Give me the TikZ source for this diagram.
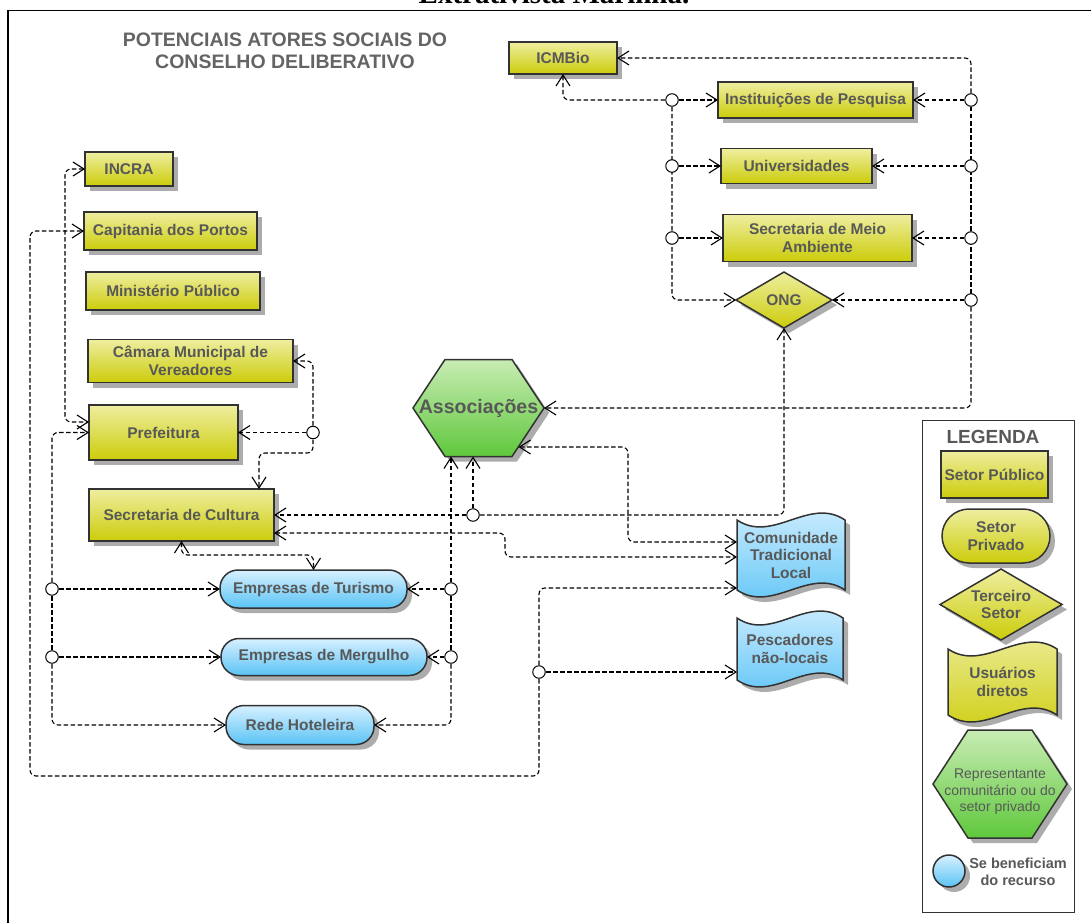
\documentclass[tikz,border=0pt]{standalone}
\usepackage{fontspec}
\setmainfont{Liberation Sans}
\newfontfamily\capfont{Liberation Serif}
\usetikzlibrary{arrows.meta,shadows,calc}

\definecolor{txtgray}{RGB}{88,88,88}
\definecolor{titlegray}{RGB}{100,100,100}
\definecolor{ytop}{RGB}{238,238,160}
\definecolor{ybot}{RGB}{204,204,10}
\definecolor{btop}{RGB}{215,240,255}
\definecolor{bbot}{RGB}{90,195,245}
\definecolor{gtop}{RGB}{200,236,180}
\definecolor{gbot}{RGB}{95,200,60}
\definecolor{shd}{RGB}{172,172,172}
\definecolor{edge}{RGB}{50,50,50}

\tikzset{
  shapeline/.style={draw=edge, line width=1.5pt, line join=miter},
  yfill/.style={top color=ytop, bottom color=ybot},
  bfill/.style={top color=btop, bottom color=bbot},
  gfill/.style={top color=gtop, bottom color=gbot},
  boxshadow/.style={drop shadow={shadow xshift=5pt,shadow yshift=-5pt,fill=shd,opacity=1}},
  lbl/.style={inner sep=0pt, outer sep=0pt, text=txtgray, align=center, font=\bfseries\fontsize{15.5}{17.5}\selectfont},
  pub/.style={lbl, shapeline, yfill, boxshadow, rectangle},
  priv/.style={lbl, shapeline, bfill, boxshadow, rectangle, rounded corners=18pt},
  conn/.style={draw=black, line width=1.1pt, dash pattern=on 4.5pt off 2.5pt, rounded corners=6pt},
  ar/.style={conn, -{Straight Barb[length=11pt,width=14pt,line width=1.1pt]}},
  bar/.style={conn, {Straight Barb[length=11pt,width=14pt,line width=1.1pt]}-{Straight Barb[length=11pt,width=14pt,line width=1.1pt]}},
  junc/.style={circle, draw=black, fill=white, line width=1pt, minimum size=12.5pt, inner sep=0pt},
}

% hexagon: center, w, h, d, style
\newcommand{\hexshape}[5]{%
 \begin{scope}[shift={#1}]
  \begin{scope}[shift={(5,5)}]
   \fill[shd] ({-(#2)/2},0) -- ({-(#2)/2+#4},{-(#3)/2}) -- ({(#2)/2-#4},{-(#3)/2}) -- ({(#2)/2},0) -- ({(#2)/2-#4},{(#3)/2}) -- ({-(#2)/2+#4},{(#3)/2}) -- cycle;
  \end{scope}
  \path[shapeline,#5] ({-(#2)/2},0) -- ({-(#2)/2+#4},{-(#3)/2}) -- ({(#2)/2-#4},{-(#3)/2}) -- ({(#2)/2},0) -- ({(#2)/2-#4},{(#3)/2}) -- ({-(#2)/2+#4},{(#3)/2}) -- cycle;
 \end{scope}}
% tape: center, w, h, style
\newcommand{\tapeshape}[4]{%
 \begin{scope}[shift={#1}]
  \begin{scope}[shift={(5,5)}]
   \fill[shd] ({-(#2)/2},{-(#3)/2}) .. controls ({-(#2)/6},{-(#3)/2+24}) and ({(#2)/6},{-(#3)/2-24}) .. ({(#2)/2},{-(#3)/2}) -- ({(#2)/2},{(#3)/2}) .. controls ({(#2)/6},{(#3)/2-24}) and ({-(#2)/6},{(#3)/2+24}) .. ({-(#2)/2},{(#3)/2}) -- cycle;
  \end{scope}
  \path[shapeline,#4] ({-(#2)/2},{-(#3)/2}) .. controls ({-(#2)/6},{-(#3)/2+24}) and ({(#2)/6},{-(#3)/2-24}) .. ({(#2)/2},{-(#3)/2}) -- ({(#2)/2},{(#3)/2}) .. controls ({(#2)/6},{(#3)/2-24}) and ({-(#2)/6},{(#3)/2+24}) .. ({-(#2)/2},{(#3)/2}) -- cycle;
 \end{scope}}
% diamond: center, w, h, style
\newcommand{\diamshape}[4]{%
 \begin{scope}[shift={#1}]
  \begin{scope}[shift={(5,5)}]
   \fill[shd] ({-(#2)/2},0) -- (0,{-(#3)/2}) -- ({(#2)/2},0) -- (0,{(#3)/2}) -- cycle;
  \end{scope}
  \path[shapeline,#4] ({-(#2)/2},0) -- (0,{-(#3)/2}) -- ({(#2)/2},0) -- (0,{(#3)/2}) -- cycle;
 \end{scope}}

\begin{document}
\begin{tikzpicture}[x=1pt,y=-1pt]
\useasboundingbox (0,0) rectangle (1091,923);
\clip (0,0) rectangle (1091,923);

% cut caption and frame
\node[font=\capfont\bfseries\fontsize{29}{29}\selectfont, anchor=base, inner sep=0pt] (caption) at (554,4) {Extrativista Marinha.};
\draw[line width=1.3pt] (8,923) -- (8,10.5) -- (1091,10.5);

% title
\node[font=\bfseries\fontsize{19.5}{22}\selectfont, text=titlegray, align=center, inner sep=0pt] (title) at (285,51) {POTENCIAIS ATORES SOCIAIS DO\\CONSELHO DELIBERATIVO};

% public sector boxes
\node[pub, minimum width=108pt, minimum height=32pt] (icm) at (563,58) {ICMBio};
\node[pub, minimum width=195pt, minimum height=36pt] (inst) at (815.5,100) {Instituições de Pesquisa};
\node[pub, minimum width=151pt, minimum height=35pt] (univ) at (796.5,166) {Universidades};
\node[pub, minimum width=189pt, minimum height=47pt] (sma) at (817.5,238) {Secretaria de Meio\\Ambiente};
\node[pub, minimum width=88pt, minimum height=34pt] (incra) at (129,169) {INCRA};
\node[pub, minimum width=173pt, minimum height=38pt] (cap) at (170.5,231) {Capitania dos Portos};
\node[pub, minimum width=174pt, minimum height=38pt] (mp) at (173,291) {Ministério Público};
\node[pub, minimum width=205pt, minimum height=43pt] (cam) at (190.5,361) {Câmara Municipal de\\Vereadores};
\node[pub, minimum width=149pt, minimum height=55pt] (pref) at (163.5,432.5) {Prefeitura};
\node[pub, minimum width=185pt, minimum height=52pt] (cult) at (181.5,515) {Secretaria de Cultura};

% ONG
\diamshape{(784,300)}{96}{56}{yfill}
\node[lbl, minimum width=96pt, minimum height=56pt] (ong) at (784,300) {ONG};

% private sector
\node[priv, minimum width=187pt, minimum height=38pt] (tur) at (313.5,589) {Empresas de Turismo};
\node[priv, minimum width=206pt, minimum height=37pt] (merg) at (324,657) {Empresas de Mergulho};
\node[priv, minimum width=148pt, minimum height=39pt] (hot) at (300,725) {Rede Hoteleira};

% Associacoes
\hexshape{(478.5,408)}{131}{97}{32}{gfill}
\node[lbl, minimum width=131pt, minimum height=97pt, font=\bfseries\fontsize{19.5}{22}\selectfont] (assoc) at (478.5,408) {Associações};

% users
\tapeshape{(791,555)}{108}{70}{bfill}
\node[lbl, minimum width=108pt, minimum height=70pt] (comm) at (791,555) {Comunidade\\Tradicional\\Local};
\tapeshape{(790,649)}{106}{62}{bfill}
\node[lbl, minimum width=106pt, minimum height=62pt] (pesc) at (790,649) {Pescadores\\não-locais};

% legend
\node[draw=edge, line width=1pt, minimum width=152pt, minimum height=492pt, inner sep=0pt, outer sep=0pt] (legbox) at (998,666) {};
\node[font=\bfseries\fontsize{19}{19}\selectfont, text=txtgray, inner sep=0pt] (legt) at (993,437) {LEGENDA};
\node[pub, minimum width=107pt, minimum height=47pt] (lpub) at (994.5,474.5) {Setor Público};
\node[lbl, shapeline, yfill, boxshadow, rectangle, rounded corners=27pt, minimum width=108pt, minimum height=54pt] (lpriv) at (996,536) {Setor\\Privado};
\diamshape{(1001,604.5)}{122}{71}{yfill}
\node[lbl, minimum width=122pt, minimum height=71pt] (lter) at (1001,604.5) {Terceiro\\Setor};
\tapeshape{(1002.5,682)}{109}{66}{yfill}
\node[lbl, minimum width=109pt, minimum height=66pt] (luser) at (1002.5,682) {Usuários\\diretos};
\hexshape{(1000,784)}{134}{108}{35}{gfill}
\node[lbl, font=\fontsize{14}{16.5}\selectfont] (lrep) at (1000,792) {Representante\\comunitário ou do\\setor privado};
\node[shapeline, bfill, boxshadow, circle, minimum size=32pt, inner sep=0pt] (lcirc) at (949,871) {};
\node[lbl, font=\bfseries\fontsize{14.5}{17}\selectfont] (lben) at (1018,871.5) {Se beneficiam\\do recurso};

% junctions (positions)
\coordinate (jR1) at (971,100);
\coordinate (jR2) at (971,166);
\coordinate (jR3) at (971,238);
\coordinate (jR4) at (971,300);
\coordinate (jL1) at (672,100);
\coordinate (jL2) at (672,166);
\coordinate (jL3) at (672,238);
\coordinate (jA) at (473,515);
\coordinate (jP) at (539,672);
\coordinate (jPf) at (313,432.5);
\coordinate (jT1) at (52,589);
\coordinate (jM1) at (52,657);
\coordinate (jT2) at (451,589);
\coordinate (jM2) at (451,657);
\coordinate (assocLR) at ($(assoc.center)+(40,39)$);

% right bus
\draw[conn] (jR1) -- (jR4);
\draw[ar] (jR1) |- (icm.east);
\draw[ar] (jR1) -- (inst.east);
\draw[ar] (jR2) -- (univ.east);
\draw[ar] (jR3) -- (sma.east);
\draw[ar] (jR4) -- (ong.east);
\draw[ar] (jR4) |- (assoc.east);

% left bus
\draw[ar] (jL1) -| (icm.south);
\draw[ar] (jL1) -- (inst.west);
\draw[ar] (jL2) -- (univ.west);
\draw[ar] (jL3) -- (sma.west);
\draw[ar] (jL1) |- (ong.west);

% Secretaria de Cultura / Associacoes / ONG
\draw[ar] (jA) -- (cult.east);
\draw[ar] (jA) -- (jA |- assoc.south);
\draw[ar] (jA) -| (ong.south);

% Secretaria de Cultura <-> Comunidade
\draw[bar] ($(cult.east)+(0,18)$) -- (505,533) -- (505,557) -- ($(comm.west)+(0,2)$);
% Associacoes <-> Comunidade
\draw[bar] (assocLR) -- (628,447) |- ($(comm.west)+(0,-13)$);

% big loop, Pescadores
\draw[ar] (jP) -- (jP -| pesc.west);
\draw[ar] (jP) |- ($(comm.west)+(0,33)$);
\draw[ar] (jP) |- (30,776) |- (cap.west);

% INCRA <-> Prefeitura
\draw[bar] (incra.west) -| (65,422) -- ($(pref.west)+(0,-10.5)$);

% Prefeitura junction
\draw[ar] (jPf) -- (pref.east);
\draw[ar] (jPf) |- (cam.east);
\draw[ar] (jPf) |- (259,453) -- ($(cult.north)+(77.5,0)$);

% left bus x=52
\draw[ar] (jT1) |- (pref.west);
\draw[ar] (jT1) -- (tur.west);
\draw[conn] (jT1) -- (jM1);
\draw[ar] (jM1) -- (merg.west);
\draw[ar] (jM1) |- (hot.west);

% Cultura <-> Turismo
\draw[bar] (cult.south) -- ++(0,14) -| (tur.north);

% Associacoes vertical
\draw[ar] (jT2) -- (jT2 |- assoc.south);
\draw[ar] (jT2) -- (tur.east);
\draw[conn] (jT2) -- (jM2);
\draw[ar] (jM2) -- (merg.east);
\draw[ar] (jM2) |- (hot.east);

% junction circles
\foreach \j in {jR1,jR2,jR3,jR4,jL1,jL2,jL3,jA,jP,jPf,jT1,jM1,jT2,jM2}
  \node[junc] at (\j) {};
\end{tikzpicture}
\end{document}
